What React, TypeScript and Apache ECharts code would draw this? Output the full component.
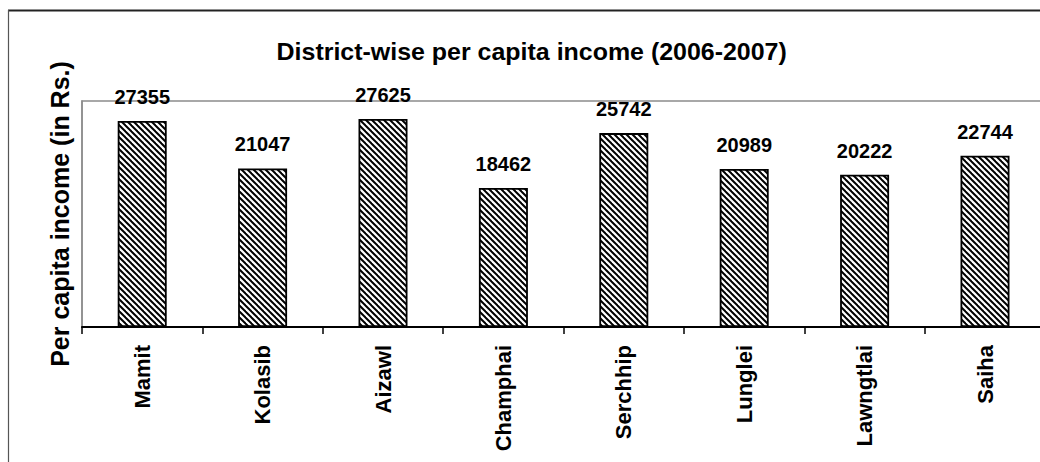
import React, { useEffect, useRef } from "react";
import * as echarts from "echarts";

const TITLE = "District-wise per capita income (2006-2007)";
const Y_NAME = "Per capita income (in Rs.)";
const districts = ["Mamit", "Kolasib", "Aizawl", "Champhai", "Serchhip", "Lunglei", "Lawngtlai", "Saiha"];
const incomes = [27355, 21047, 27625, 18462, 25742, 20989, 20222, 22744];
const Y_MIN = 0;
const Y_MAX = 30000;

const FONT = "'Liberation Sans', Arial, Helvetica, sans-serif";

function makeHatch(): HTMLCanvasElement {
  const s = 6;
  const c = document.createElement("canvas");
  c.width = s;
  c.height = s;
  const ctx = c.getContext("2d")!;
  ctx.fillStyle = "#ffffff";
  ctx.fillRect(0, 0, s, s);
  ctx.strokeStyle = "#000000";
  ctx.lineWidth = 2;
  for (const k of [-s, 0, s]) {
    ctx.beginPath();
    ctx.moveTo(-1, k - 1);
    ctx.lineTo(s + 1, k + s + 1);
    ctx.stroke();
  }
  return c;
}

export default function App() {
  const ref = useRef<HTMLDivElement>(null);
  useEffect(() => {
    if (!ref.current) return;
    const chart = echarts.init(ref.current, undefined, { renderer: "svg" });
    const hatch = makeHatch();
    chart.setOption({
      animation: false,
      backgroundColor: "#ffffff",
      grid: {
        left: 82,
        top: 101,
        right: 1100 - (82 + 963.2),
        bottom: 480 - 327,
        show: true,
        borderColor: "#8c8c8c",
        borderWidth: 1.5,
        backgroundColor: "transparent",
      },
      graphic: [
        {
          type: "line",
          shape: { x1: 8, y1: 10.5, x2: 1100, y2: 10.5 },
          style: { stroke: "#222", lineWidth: 2 },
          silent: true,
        },
        {
          type: "line",
          shape: { x1: 8.5, y1: 10, x2: 8.5, y2: 480 },
          style: { stroke: "#555", lineWidth: 1.2 },
          silent: true,
        },
        {
          type: "text",
          x: 531.7,
          y: 52,
          scaleX: 1.04,
          style: {
            text: TITLE,
            fill: "#000",
            font: `bold 24px ${FONT}`,
            align: "center",
            verticalAlign: "middle",
          },
          silent: true,
        },
      ],
      xAxis: {
        type: "category",
        data: districts,
        boundaryGap: true,
        axisLine: { show: true, lineStyle: { color: "#000", width: 2 } },
        axisTick: { show: true, length: 7, lineStyle: { color: "#000", width: 1.5 } },
        axisLabel: {
          rotate: 90,
          margin: 18,
          color: "#000",
          fontWeight: "bold",
          fontSize: 22,
          fontFamily: FONT,
          interval: 0,
        },
      },
      yAxis: {
        type: "value",
        min: Y_MIN,
        max: Y_MAX,
        interval: 30000,
        name: Y_NAME,
        nameLocation: "middle",
        nameGap: 10,
        nameTextStyle: { color: "#000", fontWeight: "bold", fontSize: 25, fontFamily: FONT },
        axisLine: { show: true, lineStyle: { color: "#8c8c8c", width: 1.5 } },
        axisTick: { show: false },
        axisLabel: { show: false },
        splitLine: { show: false },
      },
      series: [
        {
          type: "bar",
          data: incomes,
          barWidth: 49,
          itemStyle: {
            color: { image: hatch, repeat: "repeat" },
            borderColor: "#000",
            borderWidth: 1.8,
          },
          label: {
            show: true,
            position: "top",
            distance: 14,
            color: "#000",
            fontWeight: "bold",
            fontSize: 20,
            fontFamily: FONT,
          },
        },
      ],
    });
    return () => chart.dispose();
  }, []);
  return (
    <div style={{ position: "fixed", left: 0, top: 0, width: 1040, height: 462, overflow: "hidden", background: "#fff" }}>
      <div ref={ref} style={{ width: 1100, height: 480 }} />
    </div>
  );
}
